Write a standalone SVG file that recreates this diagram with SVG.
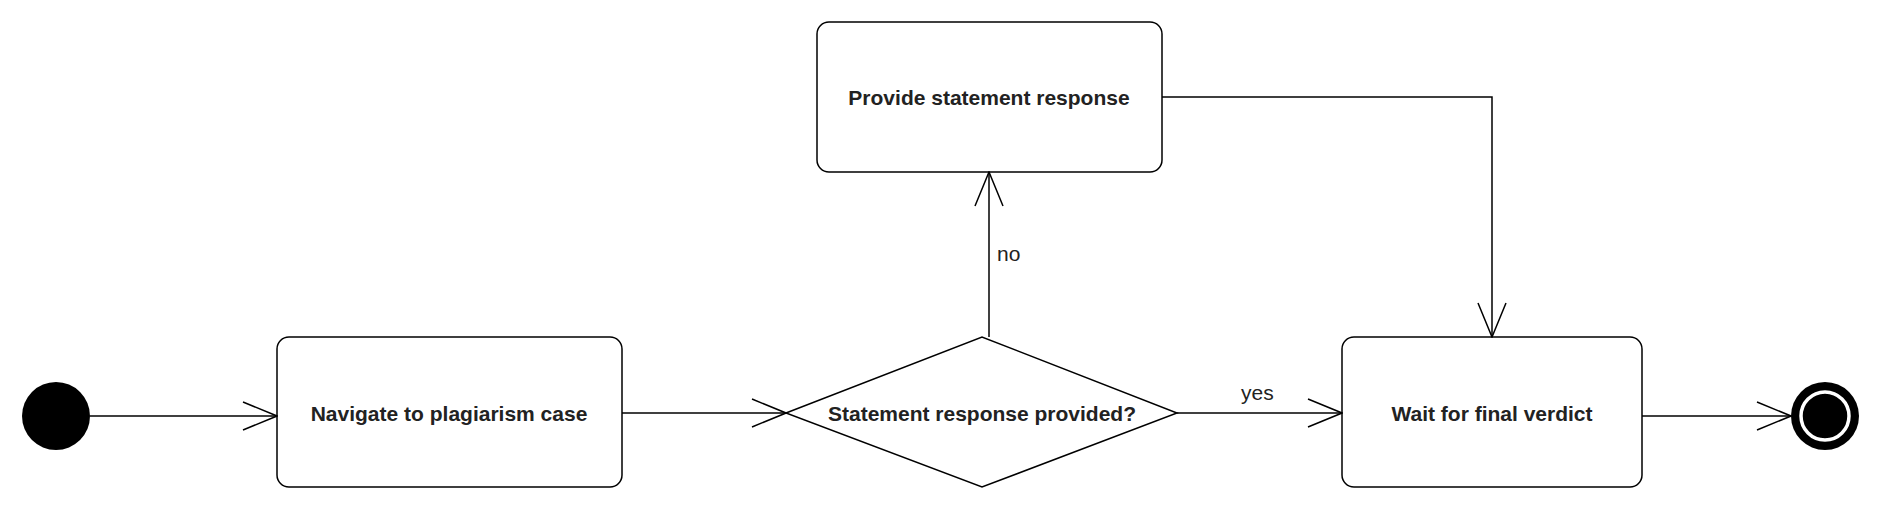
<svg xmlns="http://www.w3.org/2000/svg" width="1882" height="510" viewBox="0 0 1882 510">
<style>
.box{fill:#fff;stroke:#000;stroke-width:1.5}
.t{font-family:"Liberation Sans",Arial,sans-serif;font-weight:bold;font-size:21px;fill:#222;text-anchor:middle;dominant-baseline:central}
.l{font-family:"Liberation Sans",Arial,sans-serif;font-size:21px;fill:#222}
.e{fill:none;stroke:#000;stroke-width:1.5}
</style>
<defs>
<marker id="a" viewBox="0 0 36 30" refX="35" refY="15" markerWidth="36" markerHeight="30" markerUnits="userSpaceOnUse" orient="auto">
<path d="M1,1 L35,15 L1,29" fill="none" stroke="#000" stroke-width="1.5"/>
</marker>
</defs>
<rect width="1882" height="510" fill="#fff"/>
<g id="start"><circle cx="56" cy="416" r="34" fill="#000"/></g>
<g id="navigate"><rect class="box" x="277" y="337" width="345" height="150" rx="12"/><text class="t" x="449" y="413">Navigate to plagiarism case</text></g>
<g id="decision"><polygon class="box" points="786,413 982,337 1177,413 982,487"/><text class="t" x="982" y="413">Statement response provided?</text></g>
<g id="provide"><rect class="box" x="817" y="22" width="345" height="150" rx="12"/><text class="t" x="989" y="97">Provide statement response</text></g>
<g id="wait"><rect class="box" x="1342" y="337" width="300" height="150" rx="12"/><text class="t" x="1492" y="413">Wait for final verdict</text></g>
<g id="end"><circle cx="1825" cy="416" r="34" fill="#000"/><circle cx="1825" cy="416" r="24" fill="none" stroke="#fff" stroke-width="3.5"/></g>
<g id="connectors">
<path class="e" d="M90,416 H277" marker-end="url(#a)"/>
<path class="e" d="M622,413 H786" marker-end="url(#a)"/>
<path class="e" d="M989,337 V172" marker-end="url(#a)"/>
<path class="e" d="M1162,97 H1492 V337" marker-end="url(#a)"/>
<path class="e" d="M1177,413 H1342" marker-end="url(#a)"/>
<path class="e" d="M1642,416 H1791" marker-end="url(#a)"/>
<text class="l" x="997" y="261">no</text>
<text class="l" x="1241" y="400">yes</text>
</g>
</svg>
